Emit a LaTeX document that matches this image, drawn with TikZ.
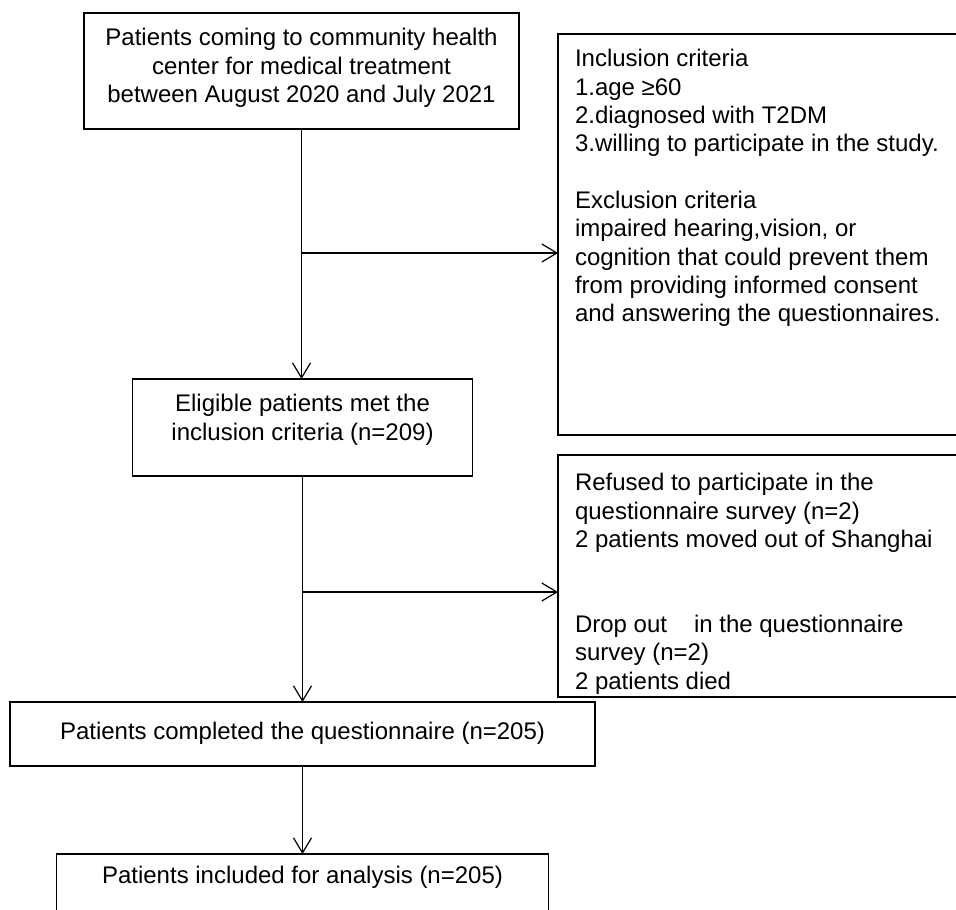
\documentclass[tikz,border=0pt]{standalone}
\usepackage{fontspec}
\setmainfont{Liberation Sans}
\usetikzlibrary{arrows.meta}
\newcommand{\boxtext}[4]{\parbox[t][#2][t]{#1}{\vspace{#3}#4}}

\begin{document}
\begin{tikzpicture}[x=0.5pt,y=-0.5pt,
  flowbox/.style={draw,line width=0.7pt,inner sep=0pt,outer sep=0pt,anchor=north west,
    font=\fontsize{12}{14.15}\selectfont},
  flowline/.style={line width=0.6pt,-{Straight Barb[length=7.5pt,width=9pt]}}]
  \useasboundingbox (0,0) rectangle (956,909);
  \clip (0,0) rectangle (956,909);
  \node[flowbox] (coming) at (84,13) {\boxtext{217.5pt}{58pt}{7.8pt}{\centering
    Patients coming to community health\\center for medical treatment\\between August 2020 and July 2021}};
  \node[flowbox] (criteria) at (558,34) {\boxtext{210pt}{200.5pt}{7.8pt}{\raggedright\leftskip=8.5pt
    Inclusion criteria\\1.age ≥60\\2.diagnosed with T2DM\\3.willing to participate in the study.\\[\baselineskip]
    Exclusion criteria\\impaired hearing,vision, or\\cognition that could prevent them\\from providing informed consent\\and answering the questionnaires.}};
  \node[flowbox] (eligible) at (132.5,379) {\boxtext{170pt}{48.5pt}{7.8pt}{\centering
    Eligible patients met the\\inclusion criteria (n=209)}};
  \node[flowbox] (dropout) at (558,455) {\boxtext{210pt}{121pt}{9.3pt}{\raggedright\leftskip=8.5pt
    Refused to participate in the\\questionnaire survey (n=2)\\2 patients moved out of Shanghai\\[2\baselineskip]
    Drop out\hspace{13.5pt}in the questionnaire\\survey (n=2)\\2 patients died}};
  \node[flowbox] (completed) at (10,702) {\boxtext{292.5pt}{32pt}{10pt}{\centering
    Patients completed the questionnaire (n=205)}};
  \node[flowbox] (analysis) at (56.5,854) {\boxtext{246pt}{40pt}{6pt}{\centering
    Patients included for analysis (n=205)}};
  \coordinate (split1) at (301.5,253);
  \coordinate (split2) at (302.5,592);
  \draw[flowline] (coming.south) -- (coming.south |- eligible.north);
  \draw[flowline] (split1) -- (split1 -| criteria.west);
  \draw[flowline] (eligible.south) -- (eligible.south |- completed.north);
  \draw[flowline] (split2) -- (split2 -| dropout.west);
  \draw[flowline] (completed.south) -- (completed.south |- analysis.north);
\end{tikzpicture}
\end{document}
